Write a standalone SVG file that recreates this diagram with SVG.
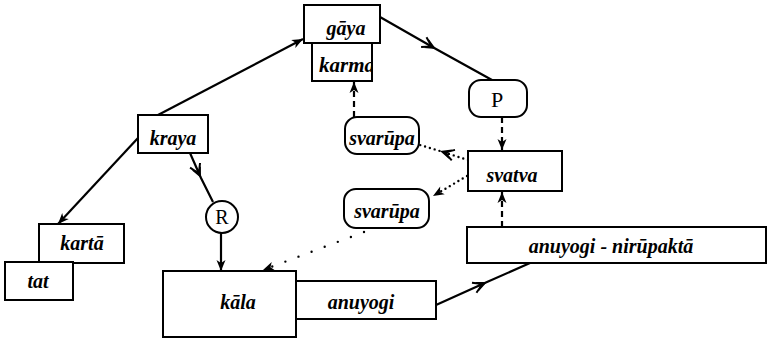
<svg xmlns="http://www.w3.org/2000/svg" width="773" height="340" viewBox="0 0 773 340">
<style>
  .box { fill: #fff; stroke: #000; stroke-width: 2; }
  .lbl { font-family: "Liberation Serif", "DejaVu Serif", serif; font-style: italic; font-weight: bold; font-size: 20px; fill: #000; text-anchor: middle; }
  .up { font-family: "Liberation Serif", "DejaVu Serif", serif; font-size: 22px; fill: #000; text-anchor: middle; }
  .ln { fill: none; stroke: #000; stroke-width: 2.2; }
  .dash { fill: none; stroke: #000; stroke-width: 2.2; stroke-dasharray: 6 4; }
  .dot { fill: none; stroke: #000; stroke-width: 2.4; stroke-linecap: round; stroke-dasharray: 0 5; }
  .sparse { fill: none; stroke: #000; stroke-width: 2.4; stroke-linecap: round; stroke-dasharray: 0 14; }
</style>
<defs>
  <marker id="end" viewBox="-12 -6 13 12" refX="0" refY="0" markerWidth="13" markerHeight="12" orient="auto" markerUnits="userSpaceOnUse">
    <path d="M0,0 L-11,-4.5 L-8,0 L-11,4.5 z" fill="#000"/>
  </marker>
  <marker id="mid" viewBox="-16 -7 18 14" refX="0" refY="0" markerWidth="18" markerHeight="14" orient="auto" markerUnits="userSpaceOnUse">
    <path d="M0,0 L-11,-5 L-8,0 L-11,5 z" fill="#000"/>
    <path d="M-5,0 L-14,-5.5 M-5,0 L-14,5.5" fill="none" stroke="#000" stroke-width="2"/>
  </marker>
  <clipPath id="karmaClip"><rect x="312" y="43" width="60" height="38"/></clipPath>
</defs>

<g id="connectors">
  <path class="ln" d="M158,115 L303,39" marker-end="url(#end)"/>
  <path class="ln" d="M380,17 L436,49 L492,80" marker-mid="url(#mid)"/>
  <path class="dash" d="M502,117 L502,150" marker-end="url(#end)"/>
  <path class="dash" d="M502,227 L502,192" marker-end="url(#end)"/>
  <path class="dash" d="M354,117 L354,82" marker-end="url(#end)"/>
  <path class="dot" d="M468,160 L440,151 L420,145" marker-mid="url(#mid)"/>
  <path class="dot" d="M467,176 L433,196" marker-end="url(#end)"/>
  <path class="sparse" d="M364,232 L263,270" marker-end="url(#end)"/>
  <path class="ln" d="M138,138 L58,224" marker-end="url(#end)"/>
  <path class="ln" d="M190,153 L201,178 L213,202" marker-mid="url(#mid)"/>
  <path class="ln" d="M221,233 L221,271" marker-end="url(#end)"/>
  <path class="ln" d="M436,305 L487,282 L530,263" marker-mid="url(#mid)"/>
</g>

<g id="gaya"><rect class="box" x="304" y="5" width="76" height="38"/><text class="lbl" x="346" y="35">gāya</text></g>
<g id="karma"><rect class="box" x="312" y="43" width="60" height="38"/><text class="lbl" x="319" y="72" style="text-anchor:start;font-size:21px" clip-path="url(#karmaClip)">karma</text></g>
<g id="P"><rect class="box" x="469" y="80" width="58" height="37" rx="12"/><text class="up" x="497" y="107">P</text></g>
<g id="kraya"><rect class="box" x="138" y="115" width="70" height="38"/><text class="lbl" x="173" y="145">kraya</text></g>
<g id="svarupa1"><rect class="box" x="345" y="117" width="74" height="37" rx="12"/><text class="lbl" x="382" y="145">svarūpa</text></g>
<g id="svarupa2"><rect class="box" x="344" y="189" width="85" height="39" rx="12"/><text class="lbl" x="387" y="218">svarūpa</text></g>
<g id="svatva"><rect class="box" x="468" y="151" width="94" height="40"/><text class="lbl" x="512" y="182">svatva</text></g>
<g id="karta"><rect class="box" x="39" y="224" width="85" height="39"/><text class="lbl" x="82" y="250">kartā</text></g>
<g id="tat"><rect class="box" x="5" y="262" width="68" height="38"/><text class="lbl" x="38" y="288">tat</text></g>
<g id="R"><circle class="box" cx="222" cy="217" r="16"/><text class="up" x="222" y="224" style="font-size:20px">R</text></g>
<g id="kala"><rect class="box" x="163" y="271" width="133" height="66"/><text class="lbl" x="238" y="309">kāla</text></g>
<g id="anuyogi"><rect class="box" x="296" y="281" width="140" height="38"/><text class="lbl" x="361" y="309">anuyogi</text></g>
<g id="anuyogi-nirupakta"><rect class="box" x="467" y="227" width="299" height="36"/><text class="lbl" x="611" y="253">anuyogi - nirūpaktā</text></g>
</svg>
